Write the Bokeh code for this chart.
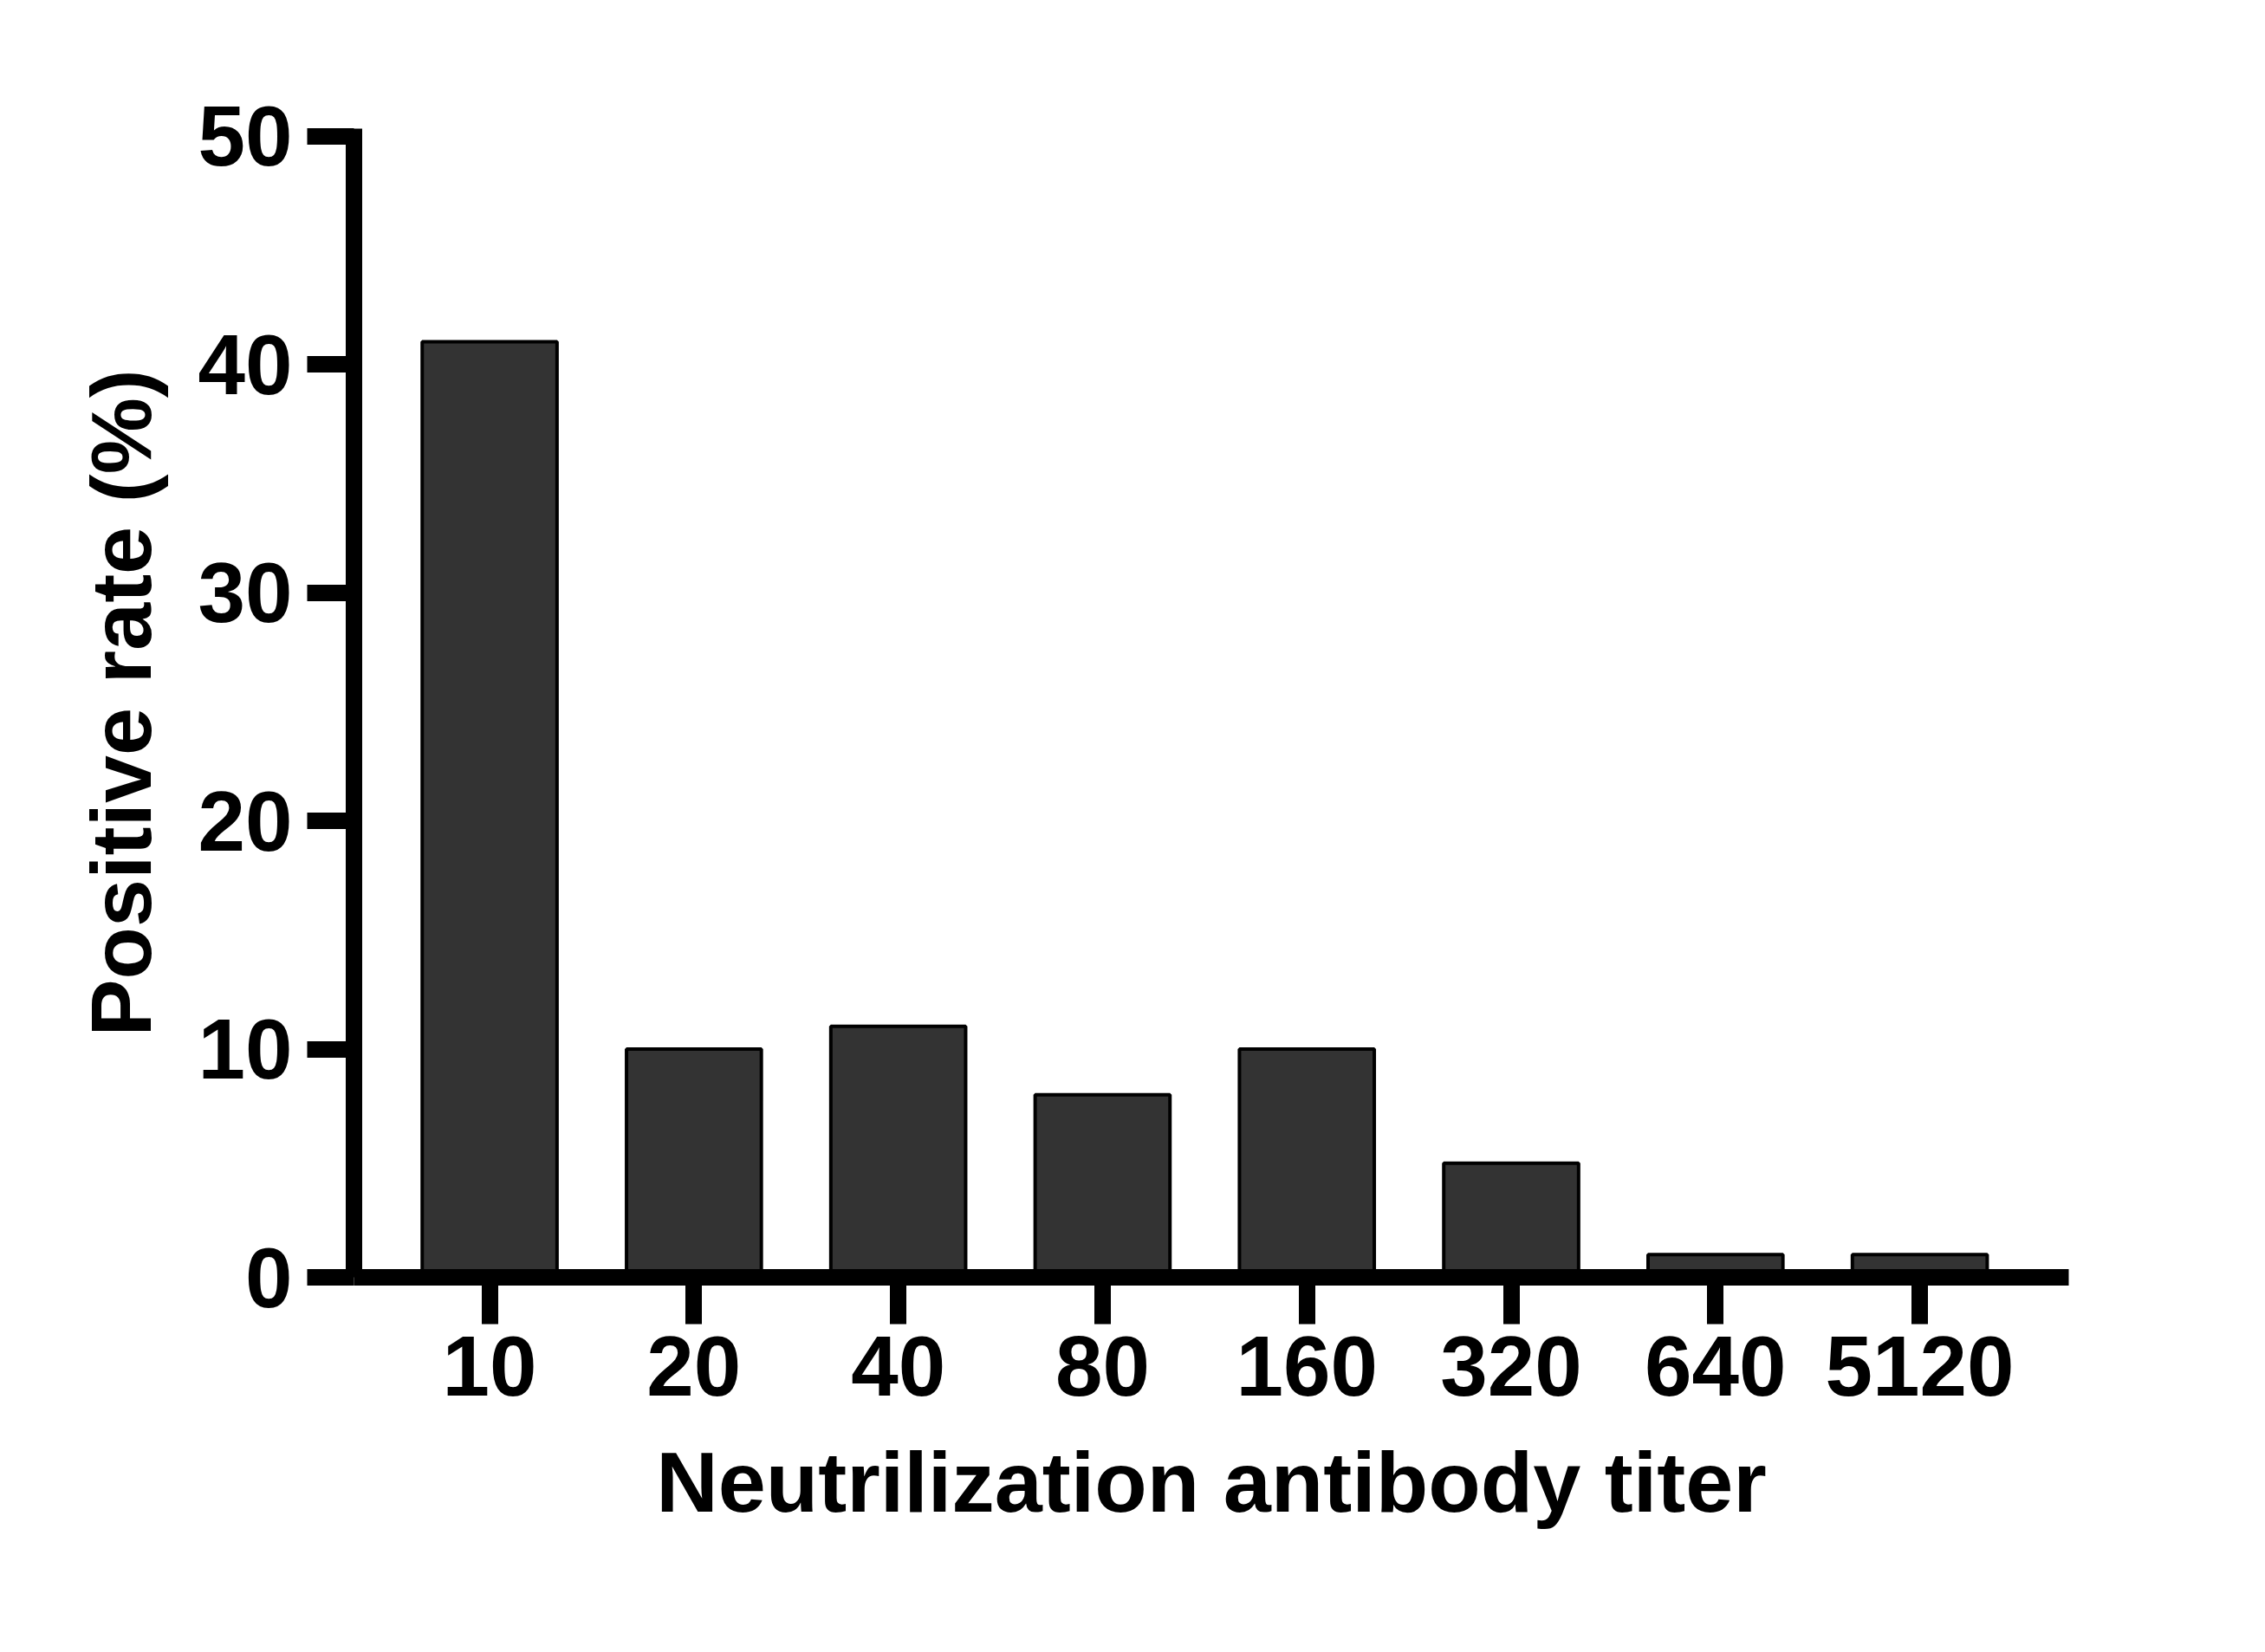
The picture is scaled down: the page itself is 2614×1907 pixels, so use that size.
import numpy as np
from bokeh.plotting import figure
from bokeh.models import ColumnDataSource, Range1d, FixedTicker
from bokeh.embed import file_html
from bokeh.resources import INLINE

# ---- data ----
titers = ["10", "20", "40", "80", "160", "320", "640", "5120"]
positive_rate = [41, 10, 11, 8, 10, 5, 1, 1]
y_ticks = [0, 10, 20, 30, 40, 50]
x_title = "Neutrilization antibody titer"
y_title = "Positive rate (%)"

X0, X1 = -0.664, 7.729
Y0, Y1 = 0, 50.34

x_pos = list(range(len(titers)))
src = ColumnDataSource(dict(x=x_pos, top=positive_rate))

p = figure(
    width=2598, height=1898,
    min_border_left=408, min_border_right=211,
    min_border_top=148, min_border_bottom=424,
    x_range=Range1d(X0, X1), y_range=Range1d(Y0, Y1),
    output_backend="svg", toolbar_location=None,
)
p.outline_line_color = None
p.xgrid.grid_line_color = None
p.ygrid.grid_line_color = None

p.vbar(x="x", top="top", bottom=0, width=0.66, source=src,
       fill_color="#333333", line_color="black", line_width=4)

p.xaxis.axis_line_width = 19
p.yaxis.axis_line_width = 19
p.xaxis.major_tick_line_width = 19
p.yaxis.major_tick_line_width = 19
p.xaxis.major_tick_out = 54
p.yaxis.major_tick_out = 54
p.xaxis.major_tick_in = 0
p.yaxis.major_tick_in = 0
p.xaxis.minor_tick_line_color = None
p.yaxis.minor_tick_line_color = None

SIZE = "98px"
for ax in (p.xaxis, p.yaxis):
    ax.major_label_text_font = "Liberation Sans"
    ax.major_label_text_font_style = "bold"
    ax.major_label_text_font_size = SIZE
    ax.major_label_text_color = "black"
    ax.axis_label_text_font = "Liberation Sans"
    ax.axis_label_text_font_style = "bold"
    ax.axis_label_text_font_size = "99px"
    ax.axis_label_text_color = "black"

p.xaxis.ticker = FixedTicker(ticks=x_pos)
p.xaxis.major_label_overrides = {i: t for i, t in zip(x_pos, titers)}
p.xaxis.major_label_standoff = 14
p.xaxis.axis_label = x_title
p.xaxis.axis_label_standoff = 41

p.yaxis.ticker = FixedTicker(ticks=y_ticks)
p.yaxis.major_label_standoff = 17
p.yaxis.axis_label = y_title
p.yaxis.axis_label_standoff = 30

open("out.html", "w").write(file_html(p, INLINE))
